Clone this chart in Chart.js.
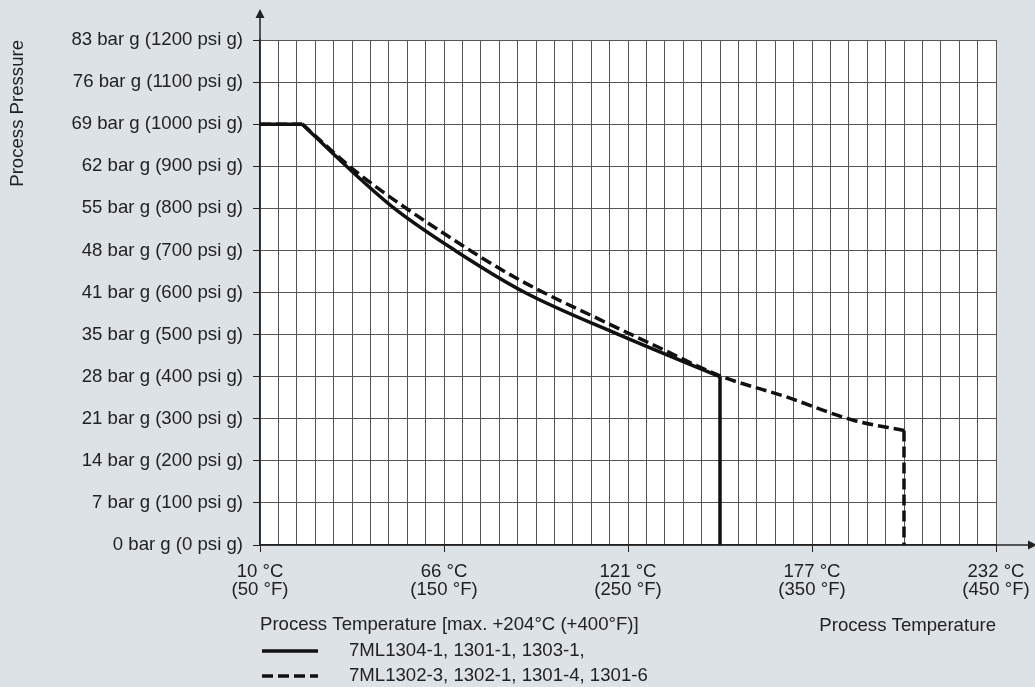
<!DOCTYPE html>
<html>
<head>
<meta charset="utf-8">
<script src="https://cdn.jsdelivr.net/npm/chart.js@4.4.1/dist/chart.umd.min.js"></script>
<style>
  html, body { margin: 0; padding: 0; background: #dde2e6; }
  #wrap { width: 1035px; height: 687px; position: relative; }
</style>
</head>
<body>
<div id="wrap"><canvas id="chart"></canvas></div>
<script>
/* pressure / temperature derating chart — x in °F, y in psi g */
const TEMP_F = [50, 150, 250, 350, 450];
const TEMP_C = [10, 66, 121, 177, 232];
const PSI_TICKS = [0, 100, 200, 300, 400, 500, 600, 700, 800, 900, 1000, 1100, 1200];
const BAR_TICKS = [0, 7, 14, 21, 28, 35, 41, 48, 55, 62, 69, 76, 83];

// first point = flat start, last point = vertical drop to zero
const solidF   = [50, 73, 97, 123, 156, 194, 245, 300, 300];
const solidPsi = [1000, 1000, 900, 800, 700, 600, 500, 400, 0];
const dashF    = [50, 73, 102, 150, 191, 235, 266, 300, 336, 372, 400, 400];
const dashPsi  = [1000, 1000, 888, 740, 630, 535, 471, 402, 352, 297, 272, 0];

const SERIES_LABELS = ["7ML1304-1, 1301-1, 1303-1,", "7ML1302-3, 1302-1, 1301-4, 1301-6"];
const SERIES_DASH = [[], [11, 5]];
const LEGEND_TITLE = "Process Temperature [max. +204°C (+400°F)]";

const FONT = '"Liberation Sans", Arial, sans-serif';
const FS = 18.6;
const INK = "#222";
const LINE_W = 3.5;

const pts = (xs, ys) => xs.map((x, i) => ({ x, y: ys[i] }));
const seg = (data, dash, smooth) => ({
  data, borderColor: "#111", borderWidth: LINE_W, borderDash: dash,
  pointRadius: 0, fill: false, tension: 0,
  cubicInterpolationMode: smooth ? "monotone" : "default",
});
// straight flat start + smooth curve + straight drop
const series = (xs, ys, dash) => {
  const p = pts(xs, ys);
  return [seg(p.slice(0, 2), dash, false), seg(p.slice(1, -1), dash, true), seg(p.slice(-2), dash, false)];
};

const decor = {
  id: "decor",
  beforeDraw(chart) {
    const { ctx, chartArea: a } = chart;
    ctx.save();
    ctx.fillStyle = "#fff";
    ctx.fillRect(a.left, a.top, a.right - a.left, a.bottom - a.top);
    ctx.restore();
  },
  afterDraw(chart) {
    const { ctx, chartArea: a } = chart;
    ctx.save();
    ctx.strokeStyle = INK; ctx.fillStyle = INK; ctx.lineWidth = 1.5;
    // axis arrows
    ctx.beginPath(); ctx.moveTo(a.left, a.top); ctx.lineTo(a.left, 16); ctx.stroke();
    ctx.beginPath(); ctx.moveTo(a.left, 9); ctx.lineTo(a.left - 4.5, 18); ctx.lineTo(a.left + 4.5, 18); ctx.fill();
    ctx.beginPath(); ctx.moveTo(a.right, a.bottom); ctx.lineTo(1030, a.bottom); ctx.stroke();
    ctx.beginPath(); ctx.moveTo(1037, a.bottom); ctx.lineTo(1028, a.bottom - 4.5); ctx.lineTo(1028, a.bottom + 4.5); ctx.fill();
    // legend block under the axis
    ctx.font = FS + "px " + FONT; ctx.textBaseline = "middle"; ctx.textAlign = "left";
    ctx.fillText(LEGEND_TITLE, a.left, 625);
    SERIES_LABELS.forEach((label, i) => {
      const y = 651 + i * 25;
      ctx.lineWidth = LINE_W; ctx.strokeStyle = "#111";
      ctx.setLineDash(SERIES_DASH[i]);
      ctx.beginPath(); ctx.moveTo(a.left + 2, y); ctx.lineTo(a.left + 58, y); ctx.stroke();
      ctx.setLineDash([]);
      ctx.fillText(label, 349, y);
    });
    ctx.restore();
  },
};

new Chart(document.getElementById("chart"), {
  type: "line",
  data: {
    datasets: [
      ...series(solidF, solidPsi, SERIES_DASH[0]),
      ...series(dashF, dashPsi, SERIES_DASH[1]),
    ],
  },
  options: {
    responsive: true, maintainAspectRatio: false, animation: false,
    layout: { padding: { top: 40, right: 39, left: 0, bottom: 0 } },
    plugins: { legend: { display: false }, tooltip: { enabled: false } },
    scales: {
      x: {
        type: "linear", min: 50, max: 450,
        afterFit: s => { s.height = 142; s.paddingRight = 0; s.paddingLeft = 0; },
        border: { display: true, color: INK, width: 1.5 },
        grid: {
          color: "#555", lineWidth: 1, tickLength: 7,
          tickColor: c => (TEMP_F.includes(c.tick.value) ? INK : "rgba(0,0,0,0)"),
        },
        ticks: {
          stepSize: 10, autoSkip: false, maxRotation: 0, padding: 11, color: INK,
          font: { family: FONT, size: FS, lineHeight: 0.95 },
          callback: v => {
            const i = TEMP_F.indexOf(v);
            return i < 0 ? "" : [TEMP_C[i] + " °C", "(" + TEMP_F[i] + " °F)"];
          },
        },
        title: {
          display: true, text: "Process Temperature", align: "end", color: INK,
          font: { family: FONT, size: FS }, padding: { bottom: 50 },
        },
      },
      y: {
        min: 0, max: 1200,
        afterFit: s => { s.width = 260; },
        border: { display: true, color: INK, width: 1.5 },
        grid: { color: "#555", lineWidth: 1, tickLength: 7, tickColor: INK },
        ticks: {
          stepSize: 100, padding: 10, color: INK,
          font: { family: FONT, size: FS },
          callback: v => {
            const i = PSI_TICKS.indexOf(v);
            return i < 0 ? "" : BAR_TICKS[i] + " bar g (" + v + " psi g)";
          },
        },
        title: {
          display: true, text: "Process Pressure", align: "end", color: INK,
          font: { family: FONT, size: FS }, padding: { top: 7 },
        },
      },
    },
  },
  plugins: [decor],
});
</script>
</body>
</html>
